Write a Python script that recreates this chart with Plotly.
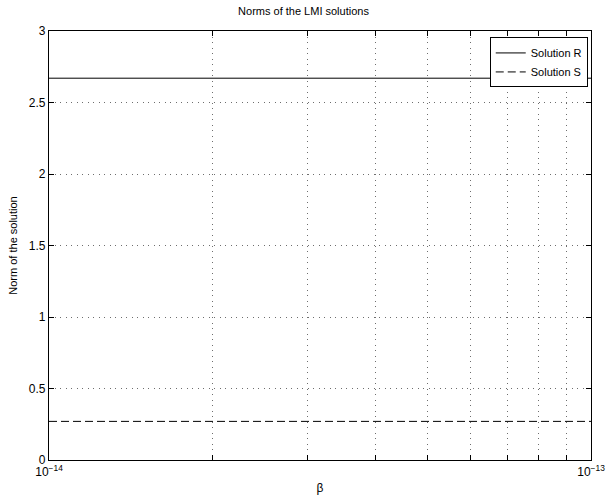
import plotly.graph_objects as go

# beta sweep endpoints and the constant norms of the two LMI solutions
beta = [1e-14, 1e-13]
norm_R = [2.67, 2.67]
norm_S = [0.27, 0.27]

x_grid = [k * 1e-14 for k in range(1, 11)]
x_labels = ["10<sup>−14</sup>"] + [""] * 8 + ["10<sup>−13</sup>"]
y_ticks = [0, 0.5, 1, 1.5, 2, 2.5, 3]
y_labels = ["0", "0.5", "1", "1.5", "2", "2.5", "3"]

FONT = "Liberation Sans, Arial, Helvetica, sans-serif"

fig = go.Figure()
fig.add_trace(go.Scatter(x=beta, y=norm_R, mode="lines", name="Solution R",
                         line=dict(color="black", width=1)))
fig.add_trace(go.Scatter(x=beta, y=norm_S, mode="lines", name="Solution S",
                         line=dict(color="black", width=1, dash="8px,4px")))

axis_common = dict(
    showline=True, linecolor="black", linewidth=1.3, mirror="ticks",
    ticks="inside", ticklen=5, tickcolor="black",
    showgrid=True, gridcolor="#6e6e6e", gridwidth=1, griddash="1px,4.5px",
    zeroline=False, automargin=False,
    tickfont=dict(family=FONT, size=12, color="black"),
)

fig.update_layout(
    width=607, height=497,
    margin=dict(l=49, r=16, t=31, b=37),
    paper_bgcolor="white", plot_bgcolor="white",
    font=dict(family=FONT, size=12, color="black"),
    title=dict(text="Norms of the LMI solutions", x=0.5, xanchor="center",
               y=0.977, yanchor="middle", font=dict(family=FONT, size=11)),
    xaxis=dict(type="log", range=[-14, -13], tickmode="array",
               tickvals=x_grid, ticktext=x_labels,
               title=dict(text="β", standoff=6, font=dict(family=FONT, size=12)),
               **axis_common),
    yaxis=dict(range=[0, 3], tickmode="array", tickvals=y_ticks, ticktext=y_labels,
               title=dict(text="Norm of the solution", standoff=8,
                          font=dict(family=FONT, size=11)),
               **axis_common),
    legend=dict(x=0.994, xanchor="right", y=0.985, yanchor="top",
                bgcolor="white", bordercolor="black", borderwidth=1,
                font=dict(family=FONT, size=11), tracegroupgap=0,
                itemwidth=30),
    showlegend=True,
)

fig.write_html("out.html")
